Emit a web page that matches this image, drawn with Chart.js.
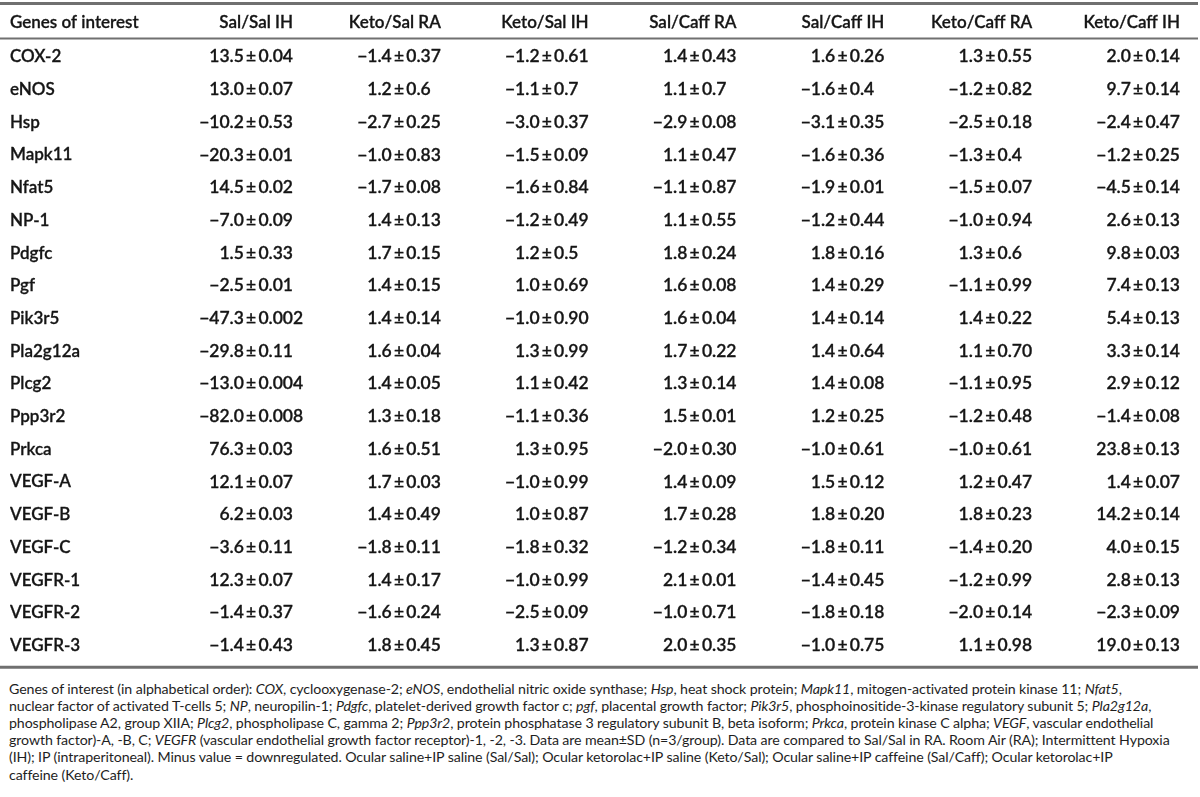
<!DOCTYPE html>
<html>
<head>
<meta charset="utf-8">
<script src="https://cdn.jsdelivr.net/npm/chart.js@4.4.1/dist/chart.umd.min.js"></script>
<style>
  html, body { margin: 0; padding: 0; background: #fff; }
  #wrap { position: relative; width: 1200px; height: 797px; overflow: hidden; }
  #box { position: absolute; left: 0; top: 0; width: 1200px; height: 672px; }
  #note {
    position: absolute; left: 9px; top: 679.5px; width: 1190px;
    font-family: Lato, "Liberation Sans", sans-serif; font-size: 14.2px; line-height: 17.2px;
    color: #1e1e1e; white-space: nowrap; letter-spacing: -0.1px;
  }
</style>
</head>
<body>
<div id="wrap">
  <div id="box"><canvas id="tableChart"></canvas></div>
  <div id="note">
    Genes of interest (in alphabetical order): <i>COX</i>, cyclooxygenase-2; <i>eNOS</i>, endothelial nitric oxide synthase; <i>Hsp</i>, heat shock protein; <i>Mapk11</i>, mitogen-activated protein kinase 11; <i>Nfat5</i>,<br>
    nuclear factor of activated T-cells 5; <i>NP</i>, neuropilin-1; <i>Pdgfc</i>, platelet-derived growth factor c; <i>pgf</i>, placental growth factor; <i>Pik3r5</i>, phosphoinositide-3-kinase regulatory subunit 5; <i>Pla2g12a</i>,<br>
    phospholipase A2, group XIIA; <i>Plcg2</i>, phospholipase C, gamma 2; <i>Ppp3r2</i>, protein phosphatase 3 regulatory subunit B, beta isoform; <i>Prkca</i>, protein kinase C alpha; <i>VEGF</i>, vascular endothelial<br>
    growth factor)-A, -B, C; <i>VEGFR</i> (vascular endothelial growth factor receptor)-1, -2, -3. Data are mean±SD (n=3/group). Data are compared to Sal/Sal in RA. Room Air (RA); Intermittent Hypoxia<br>
    (IH); IP (intraperitoneal). Minus value = downregulated. Ocular saline+IP saline (Sal/Sal); Ocular ketorolac+IP saline (Keto/Sal); Ocular saline+IP caffeine (Sal/Caff); Ocular ketorolac+IP<br>
    caffeine (Keto/Caff).
  </div>
</div>
<script>
// rows and columns of the table
const genes = ['COX-2', 'eNOS', 'Hsp', 'Mapk11', 'Nfat5', 'NP-1', 'Pdgfc', 'Pgf', 'Pik3r5', 'Pla2g12a',
    'Plcg2', 'Ppp3r2', 'Prkca', 'VEGF-A', 'VEGF-B', 'VEGF-C', 'VEGFR-1', 'VEGFR-2', 'VEGFR-3'];
const columns = ['Sal/Sal IH', 'Keto/Sal RA', 'Keto/Sal IH', 'Sal/Caff RA', 'Sal/Caff IH', 'Keto/Caff RA', 'Keto/Caff IH'];
const cornerLabel = 'Genes of interest';

// mean fold change, one array per column
const salSalIH = [13.5, 13.0, -10.2, -20.3, 14.5, -7.0, 1.5, -2.5, -47.3, -29.8, -13.0, -82.0, 76.3, 12.1, 6.2, -3.6, 12.3, -1.4, -1.4];
const ketoSalRA = [-1.4, 1.2, -2.7, -1.0, -1.7, 1.4, 1.7, 1.4, 1.4, 1.6, 1.4, 1.3, 1.6, 1.7, 1.4, -1.8, 1.4, -1.6, 1.8];
const ketoSalIH = [-1.2, -1.1, -3.0, -1.5, -1.6, -1.2, 1.2, 1.0, -1.0, 1.3, 1.1, -1.1, 1.3, -1.0, 1.0, -1.8, -1.0, -2.5, 1.3];
const salCaffRA = [1.4, 1.1, -2.9, 1.1, -1.1, 1.1, 1.8, 1.6, 1.6, 1.7, 1.3, 1.5, -2.0, 1.4, 1.7, -1.2, 2.1, -1.0, 2.0];
const salCaffIH = [1.6, -1.6, -3.1, -1.6, -1.9, -1.2, 1.8, 1.4, 1.4, 1.4, 1.4, 1.2, -1.0, 1.5, 1.8, -1.8, -1.4, -1.8, -1.0];
const ketoCaffRA = [1.3, -1.2, -2.5, -1.3, -1.5, -1.0, 1.3, -1.1, 1.4, 1.1, -1.1, -1.2, -1.0, 1.2, 1.8, -1.4, -1.2, -2.0, 1.1];
const ketoCaffIH = [2.0, 9.7, -2.4, -1.2, -4.5, 2.6, 9.8, 7.4, 5.4, 3.3, 2.9, -1.4, 23.8, 1.4, 14.2, 4.0, 2.8, -2.3, 19.0];

// SD, kept as printed (trailing zeros matter)
const salSalIHsd = ['0.04', '0.07', '0.53', '0.01', '0.02', '0.09', '0.33', '0.01', '0.002', '0.11', '0.004', '0.008', '0.03', '0.07', '0.03', '0.11', '0.07', '0.37', '0.43'];
const ketoSalRAsd = ['0.37', '0.6', '0.25', '0.83', '0.08', '0.13', '0.15', '0.15', '0.14', '0.04', '0.05', '0.18', '0.51', '0.03', '0.49', '0.11', '0.17', '0.24', '0.45'];
const ketoSalIHsd = ['0.61', '0.7', '0.37', '0.09', '0.84', '0.49', '0.5', '0.69', '0.90', '0.99', '0.42', '0.36', '0.95', '0.99', '0.87', '0.32', '0.99', '0.09', '0.87'];
const salCaffRAsd = ['0.43', '0.7', '0.08', '0.47', '0.87', '0.55', '0.24', '0.08', '0.04', '0.22', '0.14', '0.01', '0.30', '0.09', '0.28', '0.34', '0.01', '0.71', '0.35'];
const salCaffIHsd = ['0.26', '0.4', '0.35', '0.36', '0.01', '0.44', '0.16', '0.29', '0.14', '0.64', '0.08', '0.25', '0.61', '0.12', '0.20', '0.11', '0.45', '0.18', '0.75'];
const ketoCaffRAsd = ['0.55', '0.82', '0.18', '0.4', '0.07', '0.94', '0.6', '0.99', '0.22', '0.70', '0.95', '0.48', '0.61', '0.47', '0.23', '0.20', '0.99', '0.14', '0.98'];
const ketoCaffIHsd = ['0.14', '0.14', '0.47', '0.25', '0.14', '0.13', '0.03', '0.13', '0.13', '0.14', '0.12', '0.08', '0.13', '0.07', '0.14', '0.15', '0.13', '0.09', '0.13'];

const meanCols = [salSalIH, ketoSalRA, ketoSalIH, salCaffRA, salCaffIH, ketoCaffRA, ketoCaffIH];
const sdCols = [salSalIHsd, ketoSalRAsd, ketoSalIHsd, salCaffRAsd, salCaffIHsd, ketoCaffRAsd, ketoCaffIHsd];

const FONT = 'Lato, "Liberation Sans", sans-serif';
const TEXT = '#151515';
const RULE = '#707070';
const STROKE = 0.3; // slightly heavier than regular, like the print
const cellFont = { family: FONT, size: 17, weight: '600' };
const valueSize = 17.5;
const PM = '\u2009\u00b1\u2009';

function fmtMean(v) {
    return (v < 0 ? '\u2212' : '') + Math.abs(v).toFixed(1);
}

// each cell is a point placed at (column, gene) by the category scales
const datasets = columns.map(col => ({
    label: col,
    data: genes.map(g => ({ x: col, y: g })),
    pointRadius: 0,
    pointHoverRadius: 0
}));

function boldText(ctx, s, x, y) {
    ctx.strokeText(s, x, y);
    ctx.fillText(s, x, y);
}

// draws the cell texts and the three horizontal rules
const tablePlugin = {
    id: 'tablePlugin',
    afterDatasetsDraw(chart) {
        const ctx = chart.ctx;
        const area = chart.chartArea;
        const xs = chart.scales.x;
        const ys = chart.scales.y;
        ctx.save();
        ctx.font = `${cellFont.weight} ${valueSize}px ${FONT}`;
        ctx.fillStyle = TEXT;
        ctx.strokeStyle = TEXT;
        ctx.lineWidth = STROKE;
        ctx.lineJoin = 'round';
        ctx.textBaseline = 'middle';
        const sdWidth = ctx.measureText(PM + '0.00').width;

        chart.data.datasets.forEach((ds, c) => {
            const meta = chart.getDatasetMeta(c);
            meta.data.forEach((pt, i) => {
                const anchor = pt.x - sdWidth;
                ctx.textAlign = 'right';
                boldText(ctx, fmtMean(meanCols[c][i]), anchor, pt.y);
                ctx.textAlign = 'left';
                boldText(ctx, PM + sdCols[c][i], anchor, pt.y);
            });
        });

        // corner header, on the same line as the column headers
        const item = xs.getLabelItems()[0];
        ctx.font = `${cellFont.weight} ${cellFont.size}px ${FONT}`;
        ctx.textAlign = 'left';
        ctx.textBaseline = item.options.textBaseline;
        boldText(ctx, cornerLabel, ys.left, item.options.translation[1] + item.textOffset);

        // rules
        ctx.strokeStyle = RULE;
        ctx.lineWidth = 3;
        ctx.beginPath();
        ctx.moveTo(0, 3.5); ctx.lineTo(1198, 3.5);
        ctx.stroke();
        ctx.lineWidth = 2;
        ctx.beginPath();
        ctx.moveTo(0, area.top - 2); ctx.lineTo(1198, area.top - 2);
        ctx.stroke();
        ctx.lineWidth = 3;
        ctx.beginPath();
        ctx.moveTo(0, area.bottom + 5.5); ctx.lineTo(1198, area.bottom + 5.5);
        ctx.stroke();
        ctx.restore();
    }
};

const tickStyle = {
    autoSkip: false,
    padding: 0,
    color: TEXT,
    font: cellFont,
    textStrokeColor: TEXT,
    textStrokeWidth: STROKE
};

new Chart(document.getElementById('tableChart'), {
    type: 'scatter',
    data: { datasets: datasets },
    options: {
        responsive: true,
        maintainAspectRatio: false,
        animation: false,
        events: [],
        layout: { padding: { left: 10, right: 20, top: 14, bottom: 7.4 } },
        plugins: {
            legend: { display: false },
            tooltip: { enabled: false }
        },
        scales: {
            x: {
                type: 'category',
                labels: columns,
                position: 'top',
                offset: false,
                grid: { display: false },
                border: { display: false },
                ticks: Object.assign({ align: 'end', maxRotation: 0 }, tickStyle),
                afterFit(scale) { scale.height = 26.5; }
            },
            y: {
                type: 'category',
                labels: genes,
                offset: true,
                grid: { display: false },
                border: { display: false },
                ticks: Object.assign({ crossAlign: 'far' }, tickStyle),
                afterFit(scale) { scale.width = 283; }
            }
        }
    },
    plugins: [tablePlugin]
});
</script>
</body>
</html>
